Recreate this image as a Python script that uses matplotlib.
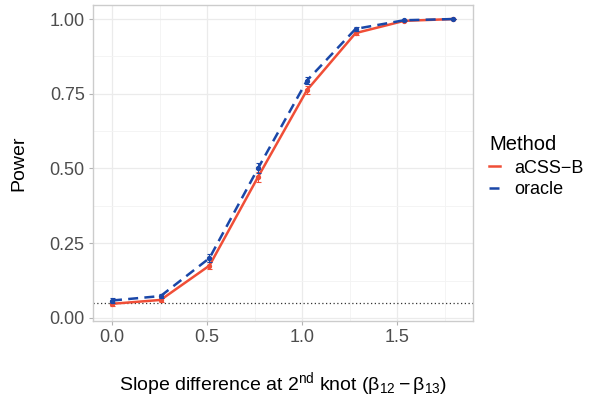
import matplotlib
matplotlib.use("Agg")
import matplotlib.pyplot as plt
from matplotlib.lines import Line2D

plt.rcParams['font.family'] = ['Liberation Sans', 'DejaVu Sans']
plt.rcParams['mathtext.fontset'] = 'custom'
plt.rcParams['mathtext.rm'] = 'Liberation Sans'
plt.rcParams['mathtext.it'] = 'Liberation Sans:italic'

x = [0.0, 0.256, 0.513, 0.769, 1.026, 1.282, 1.538, 1.795]
acss_b = [0.047, 0.060, 0.175, 0.472, 0.762, 0.953, 0.994, 1.000]
acss_b_err = [0.007, 0.008, 0.012, 0.016, 0.013, 0.007, 0.002, 0.0]
oracle = [0.058, 0.073, 0.200, 0.501, 0.794, 0.967, 0.996, 1.000]
oracle_err = [0.007, 0.008, 0.013, 0.016, 0.013, 0.006, 0.002, 0.0]
alpha_level = 0.05

red = '#F04E37'
blue = '#1A47A8'

fig = plt.figure(figsize=(5.98, 3.99), dpi=100)
ax = fig.add_axes([93/598, 1-321/399, 380/598, 316/399])

ax.set_xlim(-0.1, 1.9)
ax.set_ylim(-0.0105, 1.047)
ax.set_xticks([0.0, 0.5, 1.0, 1.5])
ax.set_xticklabels(['0.0', '0.5', '1.0', '1.5'])
ax.set_xticks([0.25, 0.75, 1.25, 1.75], minor=True)
ax.set_yticks([0, 0.25, 0.5, 0.75, 1.0])
ax.set_yticklabels(['0.00', '0.25', '0.50', '0.75', '1.00'])
ax.set_yticks([0.125, 0.375, 0.625, 0.875], minor=True)
ax.grid(which='major', color='#EBEBEB', lw=0.9)
ax.grid(which='minor', color='#F3F3F3', lw=0.6)
ax.set_axisbelow(True)
for s in ax.spines.values():
    s.set_color('#CCCCCC')
    s.set_linewidth(1.0)
ax.tick_params(which='major', colors='#B3B3B3', length=3, width=0.8, labelsize=13, labelcolor='#4D4D4D', pad=3)
ax.tick_params(which='minor', length=0)

ax.axhline(alpha_level, color='#333333', ls=(0, (1, 2)), lw=0.9, zorder=2)

ax.errorbar(x, acss_b, yerr=acss_b_err, color=red, lw=1.8, marker='o', ms=2.8,
            capsize=1.8, elinewidth=0.8, capthick=0.8, zorder=3)
ax.errorbar(x, oracle, yerr=oracle_err, color=blue, lw=1.8, ls=(0, (4, 2.5)), marker='o', ms=2.8,
            capsize=1.8, elinewidth=0.8, capthick=0.8, zorder=4)

ax.set_ylabel('Power', fontsize=14, labelpad=16)
ax.set_xlabel(r'Slope difference at 2$^{\mathrm{nd}}$ knot ($\mathrm{\beta_{12} - \beta_{13}}$)',
              fontsize=14, labelpad=17)

handles = [Line2D([], [], color=red, lw=1.8),
           Line2D([], [], color=blue, lw=1.8, ls=(0, (4, 2.5)))]
leg = fig.legend(handles, ['aCSS\u2212B', 'oracle'], title='Method', loc='upper left',
                 bbox_to_anchor=(489/598, 1-135/399), frameon=False, fontsize=13,
                 title_fontsize=14.5, handlelength=0.6, handletextpad=0.8,
                 labelspacing=0.25, borderpad=0, borderaxespad=0)
leg._legend_box.align = 'left'
leg._legend_box.sep = 4

fig.savefig('out.png', dpi=100)
